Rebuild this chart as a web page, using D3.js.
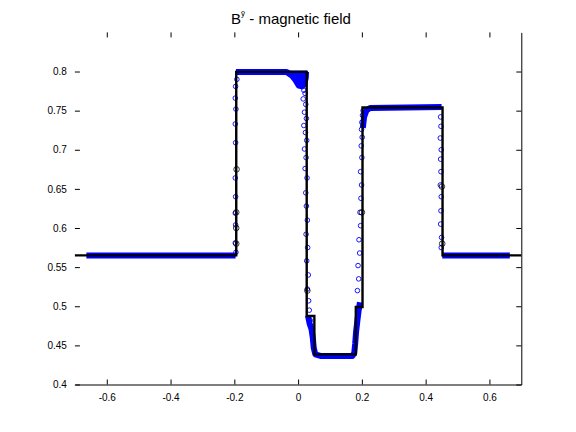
<!DOCTYPE html>
<html>
<head>
<meta charset="utf-8">
<script src="https://cdn.jsdelivr.net/npm/d3@7"></script>
<style>
  body { margin: 0; background: #fff; }
  svg text { font-family: "Liberation Sans", Arial, sans-serif; }
</style>
</head>
<body>
<svg id="chart" width="576" height="432"></svg>
<script>
// ticks
const xTicks = [-0.6, -0.4, -0.2, 0, 0.2, 0.4, 0.6];
const xTickLabels = ["-0.6", "-0.4", "-0.2", "0", "0.2", "0.4", "0.6"];
const yTicks = [0.4, 0.45, 0.5, 0.55, 0.6, 0.65, 0.7, 0.75, 0.8];
const yTickLabels = ["0.4", "0.45", "0.5", "0.55", "0.6", "0.65", "0.7", "0.75", "0.8"];

// exact solution (black step line)
const exactX = [-0.7, -0.194, -0.194, 0.027, 0.027, 0.051, 0.051, 0.181, 0.181, 0.202, 0.202, 0.453, 0.453, 0.7];
const exactY = [0.565, 0.565, 0.7995, 0.7995, 0.4875, 0.4875, 0.4385, 0.4385, 0.499, 0.499, 0.754, 0.754, 0.565, 0.565];

// numerical solution, flat parts (dense points look like a thick blue band)
const bandLeft = [[-0.664, 0.565], [-0.196, 0.565]];
const bandTop = [[-0.195, 0.7995], [-0.036, 0.7995], [-0.02, 0.795], [-0.008, 0.789], [0.002, 0.782], [0.012, 0.781], [0.02, 0.785], [0.024, 0.792], [0.025, 0.7995]];
const blob = [[-0.036, 0.8], [0.025, 0.8], [0.025, 0.782], [0.012, 0.779], [0.002, 0.781], [-0.015, 0.792]];
const bandBottom = [[0.031, 0.488], [0.036, 0.478], [0.042, 0.471], [0.046, 0.46], [0.049, 0.447], [0.054, 0.4385], [0.07, 0.4365], [0.17, 0.4365], [0.176, 0.44], [0.179, 0.452], [0.182, 0.468], [0.186, 0.482], [0.19, 0.495], [0.194, 0.505]];
const bandUpper = [[0.203, 0.728], [0.207, 0.742], [0.214, 0.75], [0.226, 0.7535], [0.45, 0.7545]];
const bandRight = [[0.452, 0.565], [0.664, 0.565]];

// numerical solution, scattered points in the jumps
const blueX = [-0.196, -0.197, -0.195, -0.197, -0.196, -0.197, -0.196, -0.197, -0.196, -0.197, -0.195, -0.192,
  0.018, 0.022, 0.016, 0.024, 0.02, 0.026, 0.018, 0.023, 0.027, 0.02, 0.025, 0.022, 0.028, 0.024, 0.026, 0.029, 0.025, 0.03, 0.027, 0.032, 0.029, 0.033, 0.035, 0.038,
  0.186, 0.19, 0.188, 0.193, 0.191, 0.196, 0.194, 0.197, 0.199, 0.196, 0.2, 0.198, 0.201, 0.199, 0.2, 0.202, 0.204,
  0.447, 0.448, 0.446, 0.449, 0.447, 0.448, 0.446, 0.449, 0.448, 0.447, 0.45, 0.449];
const blueY = [0.781, 0.766, 0.752, 0.733, 0.709, 0.664, 0.64, 0.619, 0.604, 0.581, 0.569, 0.79,
  0.776, 0.772, 0.765, 0.758, 0.748, 0.74, 0.731, 0.722, 0.712, 0.701, 0.69, 0.676, 0.664, 0.645, 0.628, 0.61, 0.592, 0.575, 0.558, 0.54, 0.522, 0.507, 0.495, 0.482,
  0.52, 0.535, 0.552, 0.568, 0.585, 0.603, 0.62, 0.638, 0.655, 0.672, 0.69, 0.705, 0.716, 0.726, 0.735, 0.744, 0.75,
  0.742, 0.73, 0.715, 0.7, 0.688, 0.672, 0.655, 0.64, 0.622, 0.605, 0.588, 0.575];

// second numerical solution (black circles), only visible in jumps
const blackX = [-0.194, -0.194, -0.194, -0.193, 0.029, 0.2, 0.451, 0.452];
const blackY = [0.6, 0.62, 0.58, 0.675, 0.52, 0.62, 0.653, 0.58];

const svg = d3.select("#chart");
const x = d3.scaleLinear().domain([-0.7, 0.7]).range([74.9, 521.3]);
const y = d3.scaleLinear().domain([0.4, 0.85]).range([384.5, 32.4]);

// title
const title = svg.append("text")
  .attr("x", 291)
  .attr("y", 24)
  .attr("text-anchor", "middle")
  .attr("font-size", 15);
title.append("tspan").text("B");
title.append("tspan").attr("font-size", 8).attr("dy", -8).text("ỹ");
title.append("tspan").attr("dy", 8).text(" - magnetic field");

// axes
const axB = svg.append("g").attr("transform", `translate(0,${y(0.4)})`)
  .call(d3.axisBottom(x).tickValues(xTicks).tickFormat((d, i) => xTickLabels[i]).tickSizeInner(-5).tickSizeOuter(0).tickPadding(9));
const axT = svg.append("g").attr("transform", `translate(0,${y(0.85)})`)
  .call(d3.axisTop(x).tickValues(xTicks).tickFormat("").tickSizeInner(-5).tickSizeOuter(0));
axT.select(".domain").remove();
const axL = svg.append("g").attr("transform", `translate(${x(-0.7)},0)`)
  .call(d3.axisLeft(y).tickValues(yTicks).tickFormat((d, i) => yTickLabels[i]).tickSizeInner(-5).tickSizeOuter(0).tickPadding(8));
axL.select(".domain").remove();
const axR = svg.append("g").attr("transform", `translate(${x(0.7)},0)`)
  .call(d3.axisRight(y).tickValues(yTicks).tickFormat("").tickSizeInner(-5).tickSizeOuter(0));

[axB, axT, axL, axR].forEach(a => {
  a.selectAll("text").attr("font-size", 10).attr("fill", "#000").attr("font-family", "Liberation Sans, Arial, sans-serif");
  a.selectAll("line, path").attr("stroke", "#000").attr("stroke-width", 1);
});

const line = d3.line().x(d => x(d[0])).y(d => y(d[1]));

// blue blob near x = 0 (overshoot cloud)
svg.append("path").attr("d", line(blob) + "Z")
  .attr("fill", "#0000ff").attr("stroke", "#0000ff").attr("stroke-width", 2);

// blue bands
[bandLeft, bandTop, bandBottom, bandUpper, bandRight].forEach(seg => {
  svg.append("path").attr("d", line(seg))
    .attr("fill", "none").attr("stroke", "#0000ff").attr("stroke-width", 6)
    .attr("stroke-linejoin", "round").attr("stroke-linecap", "butt");
});

// blue scattered circles
svg.append("g").selectAll("circle").data(blueX).join("circle")
  .attr("cx", d => x(d))
  .attr("cy", (d, i) => y(blueY[i]))
  .attr("r", 2.3)
  .attr("fill", "none").attr("stroke", "#0000ff").attr("stroke-width", 0.9);

// black circles
svg.append("g").selectAll("circle").data(blackX).join("circle")
  .attr("cx", d => x(d))
  .attr("cy", (d, i) => y(blackY[i]))
  .attr("r", 2.8)
  .attr("fill", "none").attr("stroke", "#000").attr("stroke-width", 0.8);

// exact solution
svg.append("path")
  .attr("d", line(exactX.map((d, i) => [d, exactY[i]])))
  .attr("fill", "none").attr("stroke", "#000").attr("stroke-width", 2.4)
  .attr("stroke-linejoin", "miter");
</script>
</body>
</html>
